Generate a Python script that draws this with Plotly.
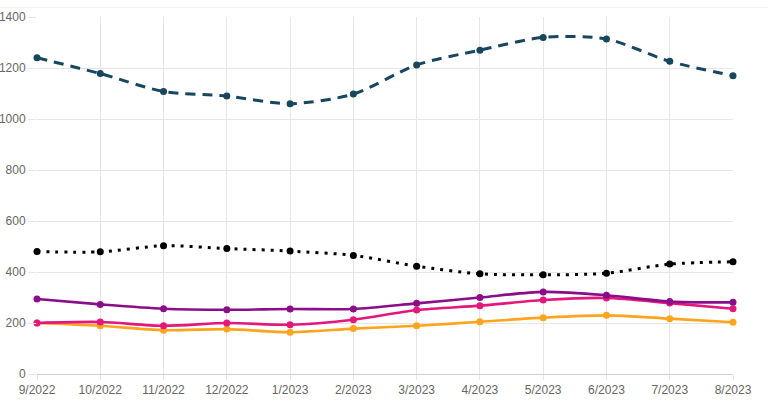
import plotly.graph_objects as go

months = ["9/2022", "10/2022", "11/2022", "12/2022", "1/2023", "2/2023",
          "3/2023", "4/2023", "5/2023", "6/2023", "7/2023", "8/2023"]
series_blue = [1240, 1178, 1108, 1090, 1060, 1098, 1212, 1270, 1320, 1314, 1226, 1170]
series_black = [480, 479, 503, 492, 482, 465, 423, 393, 389, 395, 431, 440]
series_purple = [294, 273, 256, 252, 255, 255, 277, 300, 322, 309, 284, 281]
series_pink = [200, 204, 189, 200, 193, 213, 251, 268, 290, 298, 278, 256]
series_orange = [200, 189, 172, 176, 164, 178, 189, 205, 221, 230, 217, 203]
y_ticks = [0, 200, 400, 600, 800, 1000, 1200, 1400]

x = list(range(len(months)))

fig = go.Figure()

def add(vals, color, dash, width):
    fig.add_trace(go.Scatter(
        x=x, y=vals, mode="lines+markers",
        line=dict(color=color, width=width, shape="spline", smoothing=0.8, dash=dash),
        marker=dict(color=color, size=7),
        cliponaxis=False, showlegend=False, hoverinfo="skip"))

add(series_orange, "#FFA41C", "solid", 2.6)
add(series_pink, "#E3177C", "solid", 2.6)
add(series_purple, "#8A0E8A", "solid", 2.6)
add(series_black, "#000000", "3px,6px", 3)
add(series_blue, "#17465F", "10px,7px", 3)

fig.update_layout(
    width=768, height=404,
    margin=dict(l=37, r=35, t=17, b=30, autoexpand=False),
    plot_bgcolor="white", paper_bgcolor="white",
    font=dict(family="Liberation Sans, Arial, sans-serif", size=12, color="#666666"),
    xaxis=dict(
        tickmode="array", tickvals=x, ticktext=months, range=[0, len(months) - 1],
        showgrid=True, gridcolor="#E6E6E6", gridwidth=1,
        ticks="outside", ticklen=5, tickcolor="#E6E6E6",
        showline=False, zeroline=False, fixedrange=True, automargin=False),
    yaxis=dict(
        range=[0, 1400], tickvals=y_ticks,
        showgrid=True, gridcolor="#E6E6E6", gridwidth=1,
        ticks="outside", ticklen=8, tickcolor="#E6E6E6",
        zeroline=True, zerolinecolor="#CFCFCF", zerolinewidth=1,
        showline=False, fixedrange=True, automargin=False),
    shapes=[dict(type="line", xref="paper", yref="paper", x0=-0.06, x1=1.06,
                 y0=1.027, y1=1.027, line=dict(color="#F0F0F0", width=1))],
)

fig.write_html("out.html")
